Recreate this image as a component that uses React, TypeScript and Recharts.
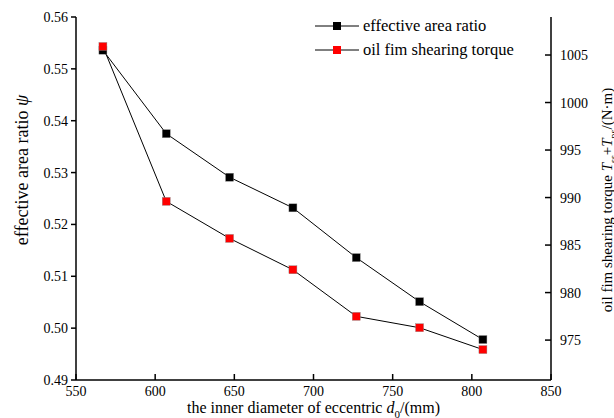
import { Legend, Line, LineChart, XAxis, YAxis } from "recharts";

const diameters = [567, 607, 647, 687, 727, 767, 807];
const areaRatio = [0.5536, 0.5375, 0.5291, 0.5232, 0.5136, 0.5051, 0.4978];
const shearTorque = [1005.9, 989.6, 985.7, 982.4, 977.5, 976.3, 974.0];

const xTicks = [550, 600, 650, 700, 750, 800, 850];
const ratioTicks = [0.49, 0.5, 0.51, 0.52, 0.53, 0.54, 0.55, 0.56];
const torqueTicks = [975, 980, 985, 990, 995, 1000, 1005];

const data = diameters.map((d, i) => ({
  d,
  ratio: areaRatio[i],
  torque: shearTorque[i],
}));

const FONT = '"Liberation Serif", "Times New Roman", serif';

const XTick = ({ x, y, payload }: any) => (
  <g>
    <line x1={x} y1={y} x2={x} y2={y - 6} stroke="#000" strokeWidth={1.5} />
    <text x={x} y={y + 16} textAnchor="middle" fontSize={14} fontFamily={FONT} fill="#000">
      {payload.value}
    </text>
  </g>
);

const LeftTick = ({ x, y, payload }: any) => (
  <g>
    <line x1={x} y1={y} x2={x - 5} y2={y} stroke="#000" strokeWidth={1.5} />
    <text x={x - 8} y={y + 5} textAnchor="end" fontSize={14} fontFamily={FONT} fill="#000">
      {payload.value.toFixed(2)}
    </text>
  </g>
);

const RightTick = ({ x, y, payload }: any) => (
  <g>
    <line x1={x} y1={y} x2={x - 6} y2={y} stroke="#000" strokeWidth={1.5} />
    <text x={x + 9} y={y + 5} textAnchor="start" fontSize={14} fontFamily={FONT} fill="#000">
      {payload.value}
    </text>
  </g>
);

const squareDot = (color: string) => (p: any) => (
  <rect
    key={`${color}-${p.index}`}
    x={p.cx - 4}
    y={p.cy - 4}
    width={8}
    height={8}
    fill={color}
    stroke="#888"
    strokeWidth={0.4}
  />
);

const legendItems = [
  { name: "effective area ratio", color: "#000" },
  { name: "oil fim shearing torque", color: "#f00" },
];

const renderLegend = () => (
  <div style={{ fontFamily: FONT, fontSize: 16.5, color: "#000" }}>
    {legendItems.map((it) => (
      <div key={it.name} style={{ display: "flex", alignItems: "center", height: 24 }}>
        <svg width={44} height={12} style={{ marginRight: 4 }}>
          <line x1={0} y1={6} x2={44} y2={6} stroke="#000" strokeWidth={1} />
          <rect x={18} y={2} width={8} height={8} fill={it.color} />
        </svg>
        <span>{it.name}</span>
      </div>
    ))}
  </div>
);

const XTitle = ({ viewBox }: any) => (
  <text
    x={viewBox.x + viewBox.width / 2}
    y={viewBox.y + 33}
    textAnchor="middle"
    fontSize={16}
    fontFamily={FONT}
    fill="#000"
  >
    the inner diameter of eccentric <tspan fontStyle="italic">d</tspan>
    <tspan fontSize={11} dy={5}>0</tspan>
    <tspan dy={-5}>/(mm)</tspan>
  </text>
);

const LeftTitle = () => (
  <text
    x={28}
    y={170}
    transform="rotate(-90 28 170)"
    textAnchor="middle"
    fontSize={18}
    fontFamily={FONT}
    fill="#000"
  >
    effective area ratio <tspan fontStyle="italic">ψ</tspan>
  </text>
);

const RightTitle = () => (
  <text
    x={612}
    y={200}
    transform="rotate(-90 612 200)"
    textAnchor="middle"
    fontSize={15}
    fontFamily={FONT}
    fill="#000"
  >
    oil fim shearing torque <tspan fontStyle="italic">T</tspan>
    <tspan fontSize={10} dy={5}>ss</tspan>
    <tspan dy={-5}>+</tspan>
    <tspan fontStyle="italic">T</tspan>
    <tspan fontSize={10} dy={5}>ps</tspan>
    <tspan dy={-5}>/(N·m)</tspan>
  </text>
);

export default function App() {
  return (
    <div style={{ position: "absolute", left: 0, top: 0, background: "#fff" }}>
      <LineChart
        width={614}
        height={418}
        data={data}
        margin={{ top: 17, right: 0, bottom: 0, left: 0 }}
      >
        <XAxis
          dataKey="d"
          type="number"
          domain={[550, 850]}
          ticks={xTicks}
          interval={0}
          height={38}
          tickSize={0}
          tickMargin={0}
          tickLine={false}
          tick={<XTick />}
          axisLine={{ stroke: "#000", strokeWidth: 1.5 }}
          label={<XTitle />}
        />
        <YAxis
          yAxisId="left"
          orientation="left"
          domain={[0.49, 0.56]}
          ticks={ratioTicks}
          interval={0}
          width={76}
          tickSize={0}
          tickMargin={0}
          tickLine={false}
          tick={<LeftTick />}
          axisLine={{ stroke: "#000", strokeWidth: 1.5 }}
          allowDataOverflow
          label={<LeftTitle />}
        />
        <YAxis
          yAxisId="right"
          orientation="right"
          domain={[970.8, 1009]}
          ticks={torqueTicks}
          interval={0}
          width={63}
          tickSize={0}
          tickMargin={0}
          tickLine={false}
          tick={<RightTick />}
          axisLine={{ stroke: "#000", strokeWidth: 1.5 }}
          allowDataOverflow
          label={<RightTitle />}
        />
        <Legend
          content={renderLegend}
          layout="vertical"
          verticalAlign="middle"
          align="center"
          wrapperStyle={{ position: "absolute", left: 315, top: 14, width: 250 }}
        />
        <Line
          yAxisId="left"
          dataKey="ratio"
          name="effective area ratio"
          type="linear"
          stroke="#000"
          strokeWidth={1}
          dot={squareDot("#000")}
          activeDot={false}
          isAnimationActive={false}
        />
        <Line
          yAxisId="right"
          dataKey="torque"
          name="oil fim shearing torque"
          type="linear"
          stroke="#000"
          strokeWidth={1}
          dot={squareDot("#f00")}
          activeDot={false}
          isAnimationActive={false}
        />
      </LineChart>
    </div>
  );
}
